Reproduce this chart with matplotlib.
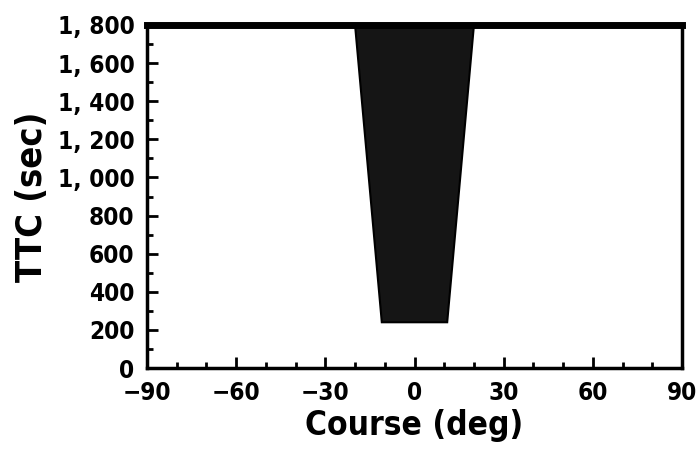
import matplotlib
matplotlib.use("Agg")
import matplotlib.pyplot as plt
from matplotlib.ticker import MultipleLocator, FuncFormatter

# Data: safe/dangerous region boundary (trapezoid)
course_deg = [-20, -11, 11, 20]
ttc_sec = [1800, 240, 240, 1800]
x_ticks = [-90, -60, -30, 0, 30, 60, 90]
y_ticks = [0, 200, 400, 600, 800, 1000, 1200, 1400, 1600, 1800]

plt.rcParams['font.family'] = ['DejaVu Sans']
plt.rcParams['font.stretch'] = 'condensed'
plt.rcParams['font.weight'] = 'bold'

fig = plt.figure(figsize=(6.99, 4.58), dpi=100)
ax = fig.add_axes([147/699, 1-368/458, (682-147)/699, (368-25)/458])

ax.fill(course_deg, ttc_sec, color='#151515', edgecolor='black', linewidth=1.5)

ax.set_xlim(-90, 90)
ax.set_ylim(0, 1800)
ax.set_xticks(x_ticks)
ax.set_yticks(y_ticks)
ax.xaxis.set_minor_locator(MultipleLocator(10))
ax.yaxis.set_minor_locator(MultipleLocator(100))
ax.yaxis.set_major_formatter(FuncFormatter(lambda v, p: f"{int(v):,}".replace(',', ', ')))
ax.xaxis.set_major_formatter(FuncFormatter(lambda v, p: f"{int(v)}".replace('-', '\u2212')))

ax.tick_params(which='major', direction='in', length=8, width=2, labelsize=17.5)
ax.tick_params(axis='y', which='major', pad=9)
ax.tick_params(axis='x', which='major', pad=9)
ax.tick_params(which='minor', direction='in', length=4, width=2)
ax.tick_params(axis='x', which='both', top=False)
ax.tick_params(axis='y', which='both', right=False)

for side in ['left', 'bottom', 'right']:
    ax.spines[side].set_linewidth(2.5)
ax.spines['top'].set_linewidth(5)

ax.set_xlabel('Course (deg)', fontsize=24, fontweight='bold', labelpad=3)
ax.set_ylabel('TTC (sec)', fontsize=26, fontweight='bold', labelpad=6)

fig.savefig('out.png', dpi=100)
